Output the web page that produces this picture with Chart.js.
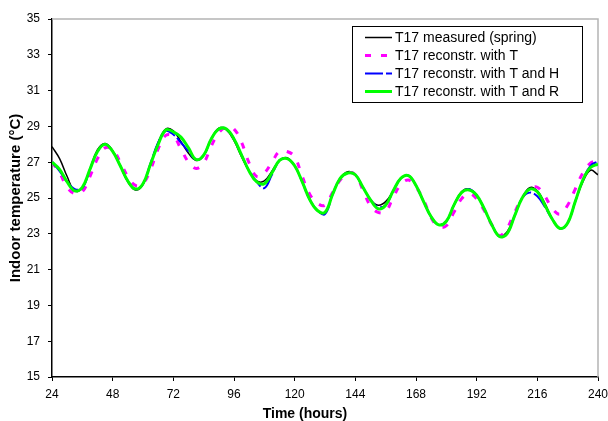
<!DOCTYPE html>
<html>
<head>
<meta charset="utf-8">
<script src="https://cdn.jsdelivr.net/npm/chart.js@4/dist/chart.umd.min.js"></script>
<style>
  html, body { margin: 0; padding: 0; background: #fff; }
  #wrap { width: 608px; height: 421px; position: relative; }
</style>
</head>
<body>
<div id="wrap"><canvas id="chart"></canvas></div>
<script>
// hours, every 3 h from 24 to 240
const hours = [24,27,30,33,36,39,42,45,48,51,54,57,60,63,66,69,72,75,78,81,84,87,90,93,96,99,102,105,108,111,114,117,120,123,126,129,132,135,138,141,144,147,150,153,156,159,162,165,168,171,174,177,180,183,186,189,192,195,198,201,204,207,210,213,216,219,222,225,228,231,234,237,240];

const measured = [27.87,27.2,26.2,25.4,25.55,26.6,27.7,28.05,27.65,26.8,25.9,25.45,25.75,26.9,28.1,28.85,28.75,28.15,27.5,27.1,27.35,28.3,28.9,28.8,28.2,27.3,26.5,25.95,25.95,26.5,27.1,27.25,26.8,25.9,24.9,24.3,24.2,25.2,26.1,26.47,26.3,25.6,24.9,24.6,24.8,25.4,26.1,26.25,25.7,24.8,23.95,23.5,23.7,24.6,25.35,25.5,25.15,24.4,23.5,22.9,23.1,24.0,25.0,25.58,25.4,24.7,23.8,23.3,23.6,24.8,25.9,26.55,26.3];

const withT = [27.0,26.4,25.6,25.25,25.35,26.2,27.2,27.8,27.7,27.0,26.2,25.7,25.8,26.6,27.75,28.5,28.45,27.75,27.0,26.65,26.95,27.9,28.65,28.95,28.85,28.1,26.95,26.2,26.4,27.0,27.6,27.6,27.3,26.2,25.2,24.7,24.6,25.3,26.0,26.4,26.3,25.45,24.55,24.2,24.25,25.05,25.75,26.0,25.6,24.9,23.9,23.4,23.45,24.2,24.95,25.25,24.95,24.3,23.5,22.9,23.3,24.2,25.0,25.5,25.6,25.1,24.4,24.1,24.6,25.5,26.4,26.95,27.1];

const withTH = [27.0,26.5,25.9,25.5,25.55,26.6,27.6,28.0,27.6,26.8,25.95,25.5,25.8,26.95,28.1,28.75,28.55,28.1,27.6,27.15,27.4,28.3,28.85,28.85,28.3,27.4,26.5,25.9,25.55,26.3,27.1,27.2,26.8,25.9,24.9,24.3,24.1,25.2,26.1,26.4,26.3,25.6,24.9,24.5,24.6,25.4,26.1,26.25,25.7,24.8,23.95,23.5,23.7,24.6,25.3,25.5,25.15,24.4,23.5,22.85,23.0,24.0,25.0,25.3,25.1,24.5,23.8,23.3,23.6,24.8,26.0,26.8,27.05];

const withTR = [27.0,26.6,25.9,25.4,25.6,26.6,27.6,28.0,27.6,26.8,25.95,25.5,25.8,26.9,28.0,28.8,28.7,28.4,27.8,27.15,27.4,28.3,28.85,28.85,28.3,27.4,26.5,25.9,25.8,26.4,27.1,27.2,26.8,25.9,24.9,24.3,24.2,25.2,26.1,26.4,26.3,25.6,24.9,24.4,24.6,25.4,26.1,26.25,25.7,24.8,23.95,23.5,23.7,24.6,25.3,25.45,25.15,24.4,23.5,22.85,23.0,24.0,25.0,25.5,25.35,24.6,23.8,23.3,23.6,24.8,26.0,26.7,26.9];

const seriesNames = ['T17 measured (spring)', 'T17 reconstr. with T', 'T17 reconstr. with T and H', 'T17 reconstr. with T and R'];
const xTicks = [24,48,72,96,120,144,168,192,216,240];
const yTicks = [15,17,19,21,23,25,27,29,31,33,35];

function pts(vals) {
    return hours.map(function (h, i) { return { x: h, y: vals[i] }; });
}

const FONT = '"Liberation Sans", Arial, sans-serif';

// legend box, axis titles and the grey top/right frame
const extras = {
    id: 'extras',
    beforeDatasetsDraw: function (chart) {
        const ctx = chart.ctx, a = chart.chartArea;
        ctx.save();
        ctx.strokeStyle = '#b4b4b4';
        ctx.lineWidth = 1.5;
        ctx.beginPath();
        ctx.moveTo(a.left, a.top);
        ctx.lineTo(a.right, a.top);
        ctx.lineTo(a.right, a.bottom);
        ctx.stroke();
        ctx.restore();
    },
    afterDraw: function (chart) {
        const ctx = chart.ctx;
        ctx.save();
        // legend
        ctx.fillStyle = '#fff';
        ctx.fillRect(352.5, 26.5, 230, 76);
        ctx.strokeStyle = '#000';
        ctx.lineWidth = 1;
        ctx.strokeRect(352.5, 26.5, 230, 76);
        const rows = [37.5, 55.5, 73.5, 91.5];
        chart.data.datasets.forEach(function (ds, i) {
            ctx.strokeStyle = ds.borderColor;
            ctx.lineWidth = ds.borderWidth;
            ctx.setLineDash(ds.legendDash || []);
            ctx.beginPath();
            ctx.moveTo(365, rows[i]);
            ctx.lineTo(392, rows[i]);
            ctx.stroke();
            ctx.setLineDash([]);
            ctx.fillStyle = '#000';
            ctx.font = '14px ' + FONT;
            ctx.textBaseline = 'middle';
            ctx.textAlign = 'left';
            ctx.fillText(seriesNames[i], 395, rows[i] + 1);
        });
        // axis titles
        ctx.fillStyle = '#000';
        ctx.font = 'bold 14px ' + FONT;
        ctx.textAlign = 'center';
        ctx.textBaseline = 'middle';
        ctx.fillText('Time (hours)', 305, 414);
        ctx.translate(15.5, 198);
        ctx.rotate(-Math.PI / 2);
        ctx.font = 'bold 15px ' + FONT;
        ctx.fillText('Indoor temperature (°C)', 0, 0);
        ctx.restore();
    }
};

const ctx = document.getElementById('chart').getContext('2d');
new Chart(ctx, {
    type: 'line',
    data: {
        datasets: [
            { data: pts(measured), borderColor: '#000000', borderWidth: 1.5, order: 3 },
            { data: pts(withT), borderColor: '#ff00ff', borderWidth: 3, borderDash: [6, 10], legendDash: [6, 10], order: 2 },
            { data: pts(withTH), borderColor: '#0000ff', borderWidth: 2, borderDash: [18, 3], legendDash: [18, 3], order: 1 },
            { data: pts(withTR), borderColor: '#00ff00', borderWidth: 3, order: 0 }
        ]
    },
    options: {
        responsive: true,
        maintainAspectRatio: false,
        animation: false,
        devicePixelRatio: 1,
        layout: { padding: { left: 0, top: 19, right: 10, bottom: 0 } },
        elements: {
            point: { radius: 0 },
            line: { tension: 0.4, fill: false }
        },
        plugins: { legend: { display: false }, tooltip: { enabled: false } },
        scales: {
            x: {
                type: 'linear',
                min: 24, max: 240,
                afterFit: function (s) { s.height = 44; s.paddingLeft = 0; s.paddingRight = 0; },
                afterBuildTicks: function (s) { s.ticks = xTicks.map(function (v) { return { value: v }; }); },
                grid: { drawOnChartArea: false, drawTicks: true, tickLength: 4, color: '#000' },
                border: { color: '#000', width: 1.5 },
                ticks: { color: '#000', font: { family: FONT, size: 12 }, padding: 6, maxRotation: 0 }
            },
            y: {
                min: 15, max: 35,
                afterFit: function (s) { s.width = 52; s.paddingTop = 0; s.paddingBottom = 0; },
                afterBuildTicks: function (s) { s.ticks = yTicks.map(function (v) { return { value: v }; }); },
                grid: { drawOnChartArea: false, drawTicks: true, tickLength: 4, color: '#000' },
                border: { color: '#000', width: 1.5 },
                ticks: { color: '#000', font: { family: FONT, size: 12 }, padding: 8 }
            }
        }
    },
    plugins: [extras]
});
</script>
</body>
</html>
